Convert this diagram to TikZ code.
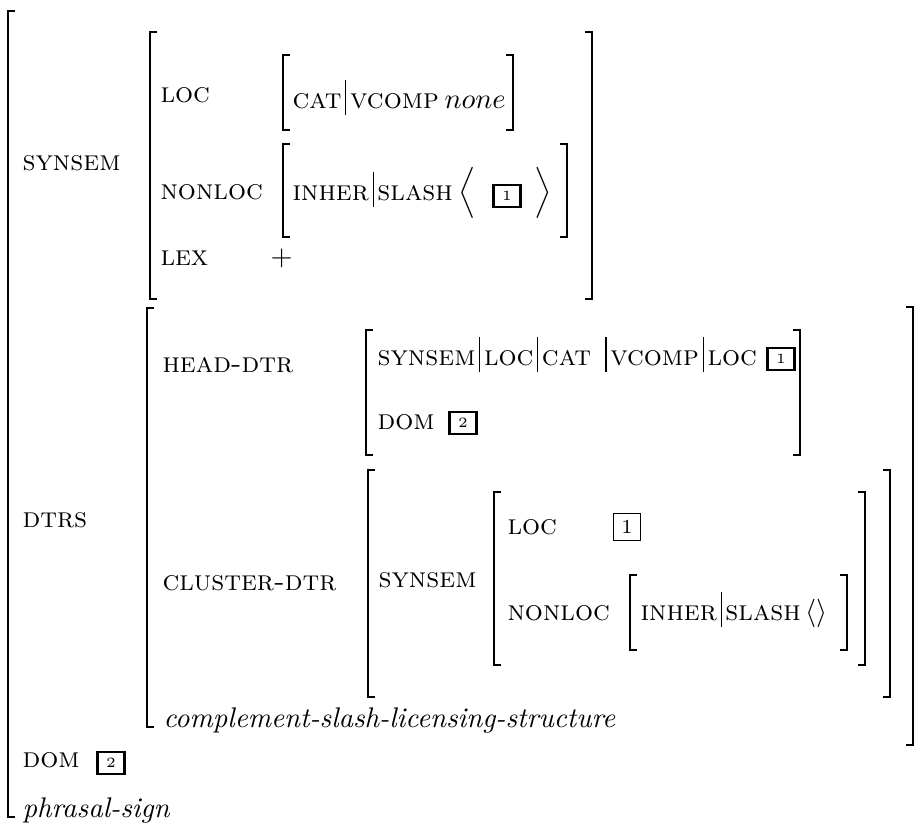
\documentclass[tikz,border=0pt]{standalone}
\usetikzlibrary{positioning}
\tikzset{
  brthin/.style={line width=0.4pt},
  brthick/.style={line width=0.85pt},
  attr/.style={anchor=base west, inner sep=0pt, font=\scshape},
  sortlbl/.style={anchor=base west, inner sep=0pt, font=\itshape},
  tagbox/.style={draw, line width=0.85pt, minimum width=9.6pt, minimum height=7.8pt, inner sep=0pt, font=\tiny},
  tagboxthin/.style={draw, line width=0.45pt, minimum size=9.4pt, inner sep=0pt, font=\scriptsize},
}
% path separator
\newcommand{\pbar}{\hspace{1.3pt}\rule[-2.5pt]{0.4pt}{12.4pt}\hspace{1.3pt}}
% #1 = x, #2 = top, #3 = bottom (px)
\newcommand{\avmlb}[3]{%
  \pgfmathsetmacro\brk{min(46,(#3-#2)/2)}
  \draw[brthin] (#1,#2) -- (#1,#3);
  \draw[brthick] (#1+7,#2) -- (#1,#2) -- (#1,#2+\brk);
  \draw[brthick] (#1+7,#3) -- (#1,#3) -- (#1,#3-\brk);}
\newcommand{\avmrb}[3]{%
  \pgfmathsetmacro\brk{min(46,(#3-#2)/2)}
  \draw[brthin] (#1,#2) -- (#1,#3);
  \draw[brthick] (#1-7,#2) -- (#1,#2) -- (#1,#2+\brk);
  \draw[brthick] (#1-7,#3) -- (#1,#3) -- (#1,#3-\brk);}
\begin{document}
\begin{tikzpicture}[x=0.352pt,y=-0.352pt]
\useasboundingbox (0,0) rectangle (924,825);
% outer phrasal-sign
\avmlb{8}{11}{817}
\node[attr] (synsem) at (22,170) {synsem};
\node[attr] (dtrs) at (22,527) {dtrs};
\node[attr] (dom) at (22,767) {dom};
\node[tagbox] (domtag) at (111,763) {2};
\node[sortlbl] (phrsign) at (22,817) {phrasal-sign};
% SYNSEM value
\avmlb{150}{32}{299} \avmrb{592}{32}{299}
\node[attr] (loc) at (160,102) {loc};
\avmlb{283}{55}{130} \avmrb{513}{55}{130}
\node[attr] (locval) at (292,108) {cat\pbar vcomp\hspace{2pt}$none$};
\node[attr] (nonloc) at (160,199) {nonloc};
\avmlb{283}{144}{237} \avmrb{567}{144}{237}
\node[attr] (slash) at (292,200) {inher\pbar slash};
\node[inner sep=0pt] (lang) at (467,193) {$\Big\langle$};
\node[tagbox] (slashtag) at (507,196) {1};
\node[inner sep=0pt] (rang) at (543,193) {$\Big\rangle$};
\node[attr] (lex) at (160,265) {lex};
\node[attr] (plus) at (270,265) {$+$};
% DTRS value
\avmlb{147}{308}{727} \avmrb{913}{307}{745}
\node[attr] (headdtr) at (162,372) {head-dtr};
\avmlb{366}{330}{455} \avmrb{800}{330}{455}
\node[attr] (hdpath) at (377,365) {synsem\pbar loc\pbar cat \pbar vcomp\pbar loc};
\node[tagbox] (hdtag) at (781,359) {1};
\node[attr] (hddom) at (377,429) {dom};
\node[tagbox] (hddomtag) at (463,423) {2};
\node[attr] (clusterdtr) at (162,590) {cluster-dtr};
\avmlb{368}{470}{697} \avmrb{890}{470}{697}
\node[attr] (clsynsem) at (378,587) {synsem};
\avmlb{494}{492}{665} \avmrb{865}{492}{665}
\node[attr] (clloc) at (507,534) {loc};
\node[tagboxthin] (clloctag) at (627,527) {1};
\node[attr] (clnonloc) at (507,620) {nonloc};
\avmlb{630}{575}{650} \avmrb{847}{575}{650}
\node[attr] (clslash) at (640,620) {inher\pbar slash\,$\langle\rangle$};
\node[sortlbl] (cslstruct) at (163,727) {complement-slash-licensing-structure};
\end{tikzpicture}
\end{document}
